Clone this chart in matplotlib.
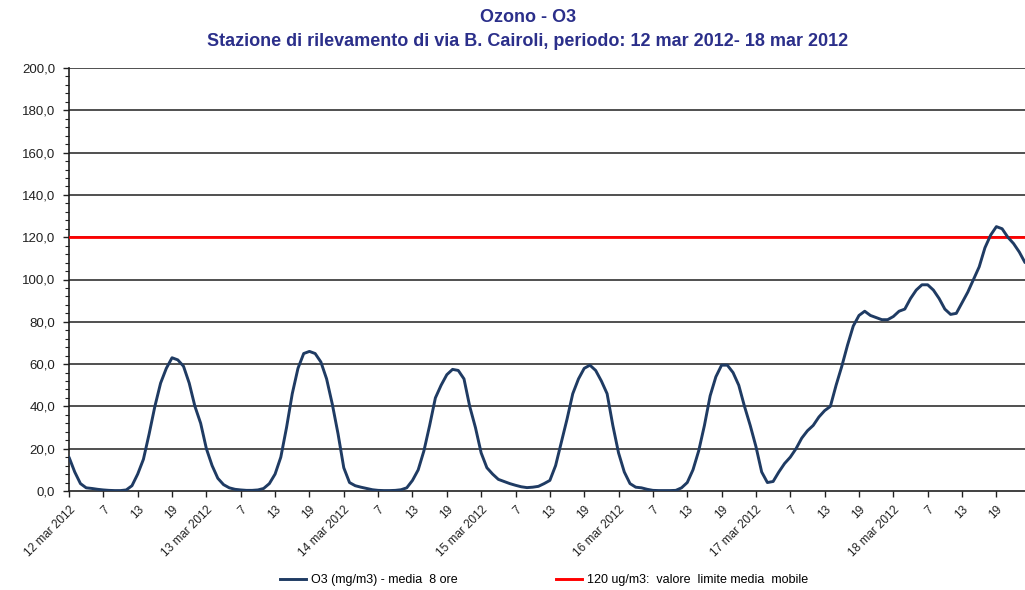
import matplotlib
matplotlib.use("Agg")
import matplotlib.pyplot as plt
from matplotlib import font_manager as fm
from matplotlib.ticker import FuncFormatter, MultipleLocator

# ---------------- data ----------------
days = ["12 mar 2012", "13 mar 2012", "14 mar 2012", "15 mar 2012",
        "16 mar 2012", "17 mar 2012", "18 mar 2012"]
hour_labels = ["7", "13", "19"]

o3_12 = [16, 9, 3.5, 1.5, 1.2, 0.8, 0.5, 0.3, 0.2, 0.2, 0.5, 2.5, 8, 15, 27, 40, 51, 58, 63, 62, 59, 51, 40, 32]
o3_13 = [20, 12, 6, 3, 1.5, 0.8, 0.5, 0.3, 0.3, 0.5, 1.2, 3.5, 8, 16, 30, 46, 58, 65, 66, 65, 61, 53, 41, 27]
o3_14 = [11, 4, 2.5, 1.8, 1.2, 0.6, 0.3, 0.2, 0.2, 0.3, 0.6, 1.5, 5, 10, 19, 31, 44, 50, 55, 57.5, 57, 53, 40, 30]
o3_15 = [18, 11, 8, 5.5, 4.5, 3.5, 2.7, 2, 1.6, 1.8, 2.2, 3.5, 5, 12, 23, 34, 46, 53, 58, 59.5, 57, 52, 46, 31]
o3_16 = [18, 9, 3.5, 1.8, 1.5, 0.8, 0.3, 0.2, 0.2, 0.2, 0.3, 1.5, 4, 10, 19, 31, 45, 54, 59.5, 59.5, 56, 50, 40, 31]
o3_17 = [21, 9, 4, 4.5, 9, 13, 16, 20, 25, 28.5, 31, 35, 38, 40, 50, 59, 69, 78, 83, 85, 83, 82, 81, 81]
o3_18 = [82.5, 85, 86, 91, 95, 97.5, 97.5, 95, 91, 86, 83.5, 84, 89, 94, 100, 106, 115, 121, 125, 124, 120, 117, 113, 108]

limit_value = 120

title_1 = "Ozono - O3"
title_2 = "Stazione di rilevamento di via B. Cairoli, periodo: 12 mar 2012- 18 mar 2012"
legend_o3 = "O3 (mg/m3) - media  8 ore"
legend_limit = "120 ug/m3:  valore  limite media  mobile"

# ---------------- build ----------------
o3 = o3_12 + o3_13 + o3_14 + o3_15 + o3_16 + o3_17 + o3_18
x = list(range(len(o3)))

tick_pos = list(range(0, len(o3), 6))
tick_lab = []
for k, _ in enumerate(tick_pos):
    if k % 4 == 0:
        tick_lab.append(days[k // 4])
    else:
        tick_lab.append(hour_labels[k % 4 - 1])

avail = {f.name for f in fm.fontManager.ttflist}
body_font = "Liberation Sans" if "Liberation Sans" in avail else "DejaVu Sans"
plt.rcParams["font.family"] = [body_font, "DejaVu Sans"]

navy = "#1F3B63"
title_col = "#2B2F8A"
ink = "#202020"

fig = plt.figure(figsize=(10.25, 5.9), dpi=100)
ax = fig.add_axes([69 / 1025, 1 - 491 / 590, (1025 - 69) / 1025, (491 - 68) / 590])

for v in range(20, 201, 20):
    ax.axhline(v, color=ink, lw=1.1, zorder=1)

ax.axhline(limit_value, color="#FF0000", lw=2.0, zorder=3)
ax.plot(x, o3, color=navy, lw=2.1, solid_joinstyle="round", solid_capstyle="round", zorder=4)

ax.set_xlim(0, len(o3) - 1)
ax.set_ylim(0, 200)

ax.yaxis.set_major_locator(MultipleLocator(20))
ax.yaxis.set_minor_locator(MultipleLocator(4))
ax.yaxis.set_major_formatter(FuncFormatter(lambda v, p: f"{v:.1f}".replace(".", ",")))
ax.set_xticks(tick_pos)
ax.set_xticklabels(tick_lab, rotation=45, ha="right", rotation_mode="anchor")

ax.tick_params(axis="y", which="major", direction="out", length=4, width=1, labelsize=9.5, pad=6, colors=ink)
ax.tick_params(axis="y", which="minor", direction="out", length=3, width=0.8, colors=ink)
ax.tick_params(axis="x", which="major", direction="out", length=4, width=1, labelsize=8.5, pad=5, colors=ink)

for s in ["top", "right"]:
    ax.spines[s].set_visible(False)
for s in ["left", "bottom"]:
    ax.spines[s].set_color(ink)
    ax.spines[s].set_linewidth(1.2)

fig.text(528 / 1025, 1 - 18 / 590, title_1, ha="center", va="center",
         fontsize=13, fontweight="bold", color=title_col)
fig.text(528 / 1025, 1 - 42 / 590, title_2, ha="center", va="center",
         fontsize=13, fontweight="bold", color=title_col)

h1, = ax.plot([], [], color=navy, lw=2.1)
h2, = ax.plot([], [], color="#FF0000", lw=2.1)
fig.legend([h1, h2], [legend_o3, legend_limit], loc="center", ncol=2,
           bbox_to_anchor=(544 / 1025, 1 - 580 / 590), frameon=False,
           fontsize=9, handlelength=2.1, handletextpad=0.4, columnspacing=7.8)

fig.savefig("out.png", dpi=100)
